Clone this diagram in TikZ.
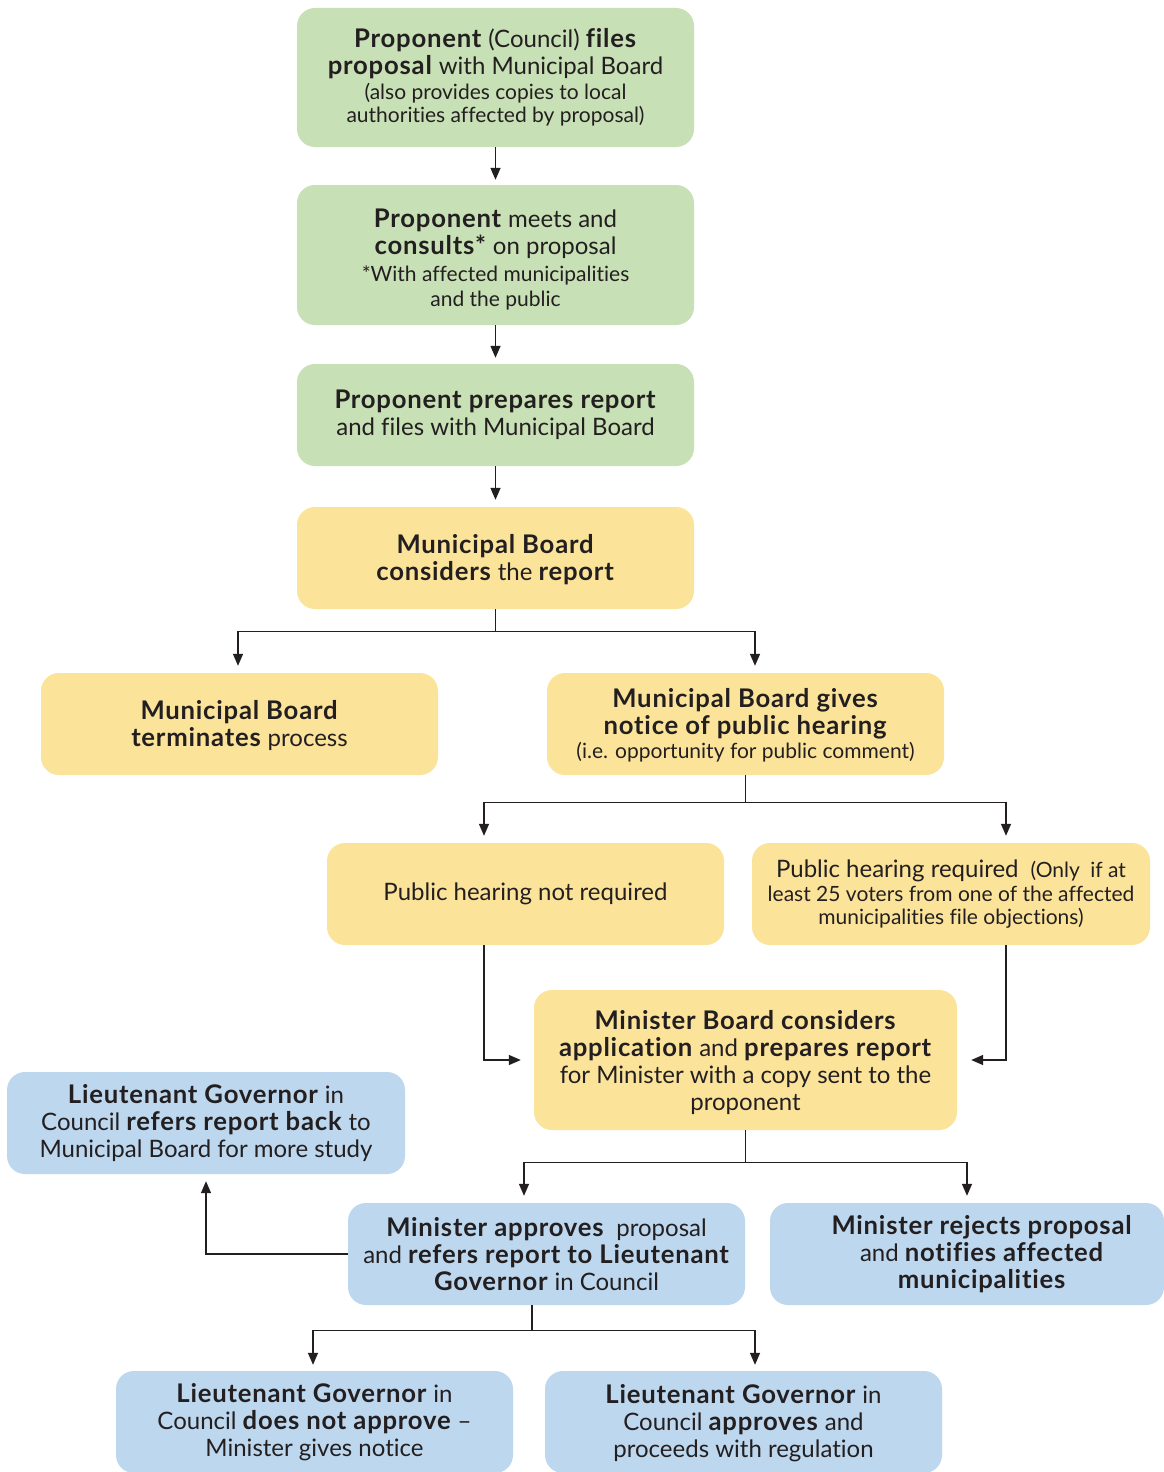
\documentclass[tikz,border=0pt]{standalone}
\usepackage{fontspec}
\setmainfont{Lato}[Ligatures=NoCommon,BoldFeatures={Scale=1.07,LetterSpace=3}]
\usetikzlibrary{arrows.meta,positioning,calc}
\definecolor{gfill}{HTML}{C8E0B5}
\definecolor{yfill}{HTML}{FBE49A}
\definecolor{bfill}{HTML}{BDD7EE}
\definecolor{ink}{HTML}{231F20}
\newcommand{\sm}{\fontsize{21}{23}\selectfont}
\newcommand{\pushdown}[1]{\rule{0pt}{#1pt}}
\begin{document}
\begin{tikzpicture}[x=1pt,y=-1pt,
  box/.style={rounded corners=18pt, inner sep=0pt, align=center, text=ink,
    font=\fontsize{24}{27}\selectfont, minimum width=397pt, minimum height=102pt},
  gbox/.style={box, fill=gfill},
  ybox/.style={box, fill=yfill},
  bbox/.style={box, fill=bfill},
  link/.style={draw=ink, line width=1.4pt},
  arr/.style={link, -{Triangle[length=12pt,width=10pt]}}
]
\useasboundingbox (0,0) rectangle (1164,1472);
\fill[white] (0,0) rectangle (1164,1472);

% green boxes
\node[gbox, minimum height=139pt] (b1) at (495.5,77.5)
  {\textbf{Proponent} (Council) \textbf{files}\\
   \textbf{proposal} with Municipal Board\\[-2pt]
   {\sm (also provides copies to local}\\[-4pt]
   {\sm authorities affected by proposal)}};
\node[gbox, minimum height=140pt] (b2) at (495.5,255)
  {\pushdown{28}\textbf{Proponent} meets and\\
   \textbf{consults*} on proposal\\
   {\sm *With affected municipalities}\\[-2pt]
   {\sm and the public}};
\node[gbox] (b3) at (495.5,415)
  {\textbf{Proponent prepares report}\\
   and files with Municipal Board};

% yellow boxes
\node[ybox] (b4) at (495.5,558)
  {\pushdown{22}\textbf{Municipal Board}\\
   \textbf{considers} the \textbf{report}};
\node[ybox] (b5) at (239.5,724)
  {\pushdown{22}\textbf{Municipal Board}\\
   \textbf{terminates} process};
\node[ybox] (b6) at (745.5,724)
  {\pushdown{22}\textbf{Municipal Board gives}\\
   \textbf{notice of public hearing}\\[-3pt]
   {\sm (i.e. opportunity for public comment)}};
\node[ybox] (b7) at (525.5,894)
  {Public hearing not required};
\node[ybox, minimum width=398pt] (b8) at (951,894)
  {Public hearing required\enspace{\sm(Only\enspace if at}\\[-3pt]
   {\sm least 25 voters from one of the affected}\\[-4pt]
   {\sm municipalities file objections)}};
\node[ybox, minimum width=423pt, minimum height=140pt] (b9) at (745.5,1060)
  {\pushdown{24}\textbf{Minister Board considers}\\
   \textbf{application} and \textbf{prepares report}\\
   for Minister with a copy sent to the\\
   proponent};

% blue boxes
\node[bbox, minimum width=398pt] (b10) at (206,1123)
  {\textbf{Lieutenant Governor} in\\
   Council \textbf{refers report back} to\\
   Municipal Board for more study};
\node[bbox] (b11) at (546.5,1254)
  {\textbf{Minister approves}\enspace proposal\\
   and \textbf{refers report to Lieutenant}\\
   \textbf{Governor} in Council};
\node[bbox, minimum width=394pt] (b12) at (967,1254)
  {\hspace*{30pt}\textbf{Minister rejects proposal}\\
   \hspace*{30pt}and \textbf{notifies affected}\\
   \hspace*{30pt}\textbf{municipalities}};
\node[bbox] (b13) at (314.5,1422)
  {\textbf{Lieutenant Governor} in\\
   Council \textbf{does not approve} --\\
   Minister gives notice};
\node[bbox] (b14) at (743.5,1422)
  {\pushdown{22}\textbf{Lieutenant Governor} in\\
   Council \textbf{approves} and\\
   proceeds with regulation};

% connectors
\draw[arr, shorten >=5pt] (b1) -- (b2);
\draw[arr, shorten >=6pt] (b2) -- (b3);
\draw[arr, shorten >=7pt] (b3) -- (b4);

\draw[link] (b4.south) -- ++(0,22) coordinate (j1);
\draw[arr, shorten >=7pt] (j1) -| ([xshift=-1.5pt]b5.north);
\draw[arr, shorten >=7pt] (j1) -| ([xshift=9.5pt]b6.north);

\draw[link] (b6.south) -- ++(0,27) coordinate (j2);
\draw[arr, shorten >=7pt] (j2) -| ([xshift=-41.5pt]b7.north);
\draw[arr, shorten >=7pt] (j2) -| ([xshift=55pt]b8.north);

\draw[arr, shorten >=13pt] ([xshift=-41.5pt]b7.south) |- (b9.west);
\draw[arr, shorten >=14pt] ([xshift=55pt]b8.south) |- (b9.east);

\draw[link] (b9.south) -- ++(0,32) coordinate (j3);
\draw[arr, shorten >=7pt] (j3) -| ([xshift=-22.5pt]b11.north);
\draw[arr, shorten >=7pt] (j3) -| (b12.north);

\draw[arr, shorten >=7pt] (b11.west) -| (b10.south);

\draw[link] ([xshift=-14.5pt]b11.south) -- ++(0,25) coordinate (j4);
\draw[arr, shorten >=6pt] (j4) -| ([xshift=-1.5pt]b13.north);
\draw[arr, shorten >=6pt] (j4) -| ([xshift=11.5pt]b14.north);
\end{tikzpicture}
\end{document}
